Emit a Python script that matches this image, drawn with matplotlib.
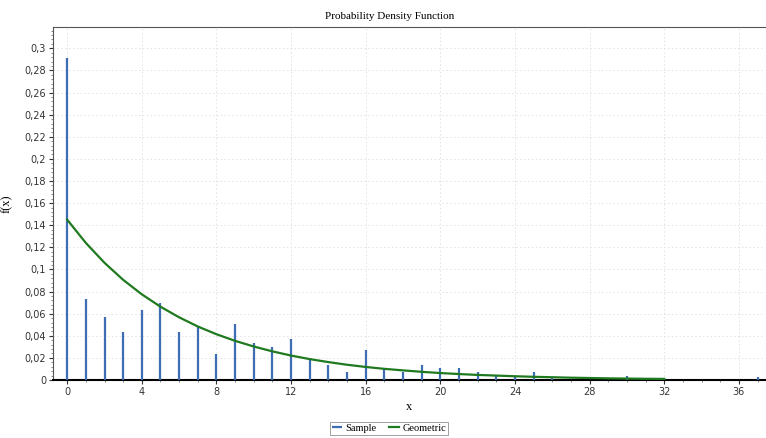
import numpy as np
import matplotlib.pyplot as plt
from matplotlib.ticker import MultipleLocator, FuncFormatter


# sample frequencies
sample_x = [0, 1, 2, 3, 4, 5, 6, 7, 8, 9, 10, 11, 12, 13, 14, 15, 16, 17, 18, 19,
            20, 21, 22, 23, 24, 25, 26, 30, 37]
sample_y = [0.291, 0.073, 0.057, 0.0434, 0.063, 0.0696, 0.0434, 0.049, 0.0235, 0.0503,
            0.0335, 0.030, 0.0368, 0.020, 0.014, 0.0072, 0.0268, 0.0103, 0.0075, 0.0139,
            0.0105, 0.0105, 0.0072, 0.0036, 0.003, 0.0069, 0.003, 0.0033, 0.003]

# fitted geometric pdf, read at integer points
geom_x = list(range(0, 33))
geom_y = [0.145, 0.124, 0.106, 0.0906, 0.0775, 0.0663, 0.0567, 0.0484, 0.0414, 0.0354,
          0.0303, 0.0259, 0.0221, 0.0189, 0.0162, 0.0138, 0.0118, 0.0101, 0.0087, 0.0074,
          0.0063, 0.0054, 0.0046, 0.0040, 0.0034, 0.0029, 0.0025, 0.0021, 0.0018, 0.0015,
          0.0013, 0.0011, 0.0010]


fig = plt.figure(figsize=(7.66, 4.38), dpi=100)
ax = fig.add_axes([0.0692, 0.1324, 0.9295, 0.806])

ax.vlines(sample_x, 0, sample_y, colors="#3d6db3", linewidth=1.6, label="Sample", zorder=3)
ax.plot(geom_x, geom_y, color="#1f7a1f", linewidth=1.6, label="Geometric", zorder=4)

ax.set_xlim(-0.76, 37.4)
ax.set_ylim(0, 0.3193)

ax.xaxis.set_major_locator(MultipleLocator(4))
ax.xaxis.set_minor_locator(MultipleLocator(1))
ax.yaxis.set_major_locator(MultipleLocator(0.02))
ax.yaxis.set_minor_locator(MultipleLocator(0.004))

comma = FuncFormatter(lambda v, p: ("%g" % round(v, 4)).replace(".", ","))
ax.yaxis.set_major_formatter(comma)

ax.tick_params(which="major", length=3, labelsize=7, colors="#333333", pad=2)
ax.tick_params(which="minor", length=1.5, colors="#777777")

ax.grid(True, which="major", linestyle=(0, (1.5, 2.5)), color="#e2e2e2", linewidth=0.7)
ax.set_axisbelow(True)

ax.spines["right"].set_visible(False)
ax.spines["top"].set_color("#555555")
ax.spines["left"].set_color("#555555")
ax.spines["bottom"].set_linewidth(1.5)

serif = ["Liberation Serif", "DejaVu Serif"]
fig.text(0.508, 0.963, "Probability Density Function", ha="center", va="center",
         fontsize=8, family=serif)
ax.set_xlabel("x", fontsize=9, family=serif, labelpad=3)
ax.set_ylabel("f(x)", fontsize=9, family=serif)
ax.yaxis.set_label_coords(-0.057, 0.5)

leg = fig.legend(loc="lower center", bbox_to_anchor=(0.508, -0.004), ncol=2,
                 prop={"family": serif, "size": 7.5}, frameon=True,
                 fancybox=False, handlelength=1.0, handletextpad=0.3,
                 columnspacing=1.2, borderpad=0.15)
leg.get_frame().set_edgecolor("#888888")
leg.get_frame().set_linewidth(0.7)

fig.savefig("out.png", dpi=100)
